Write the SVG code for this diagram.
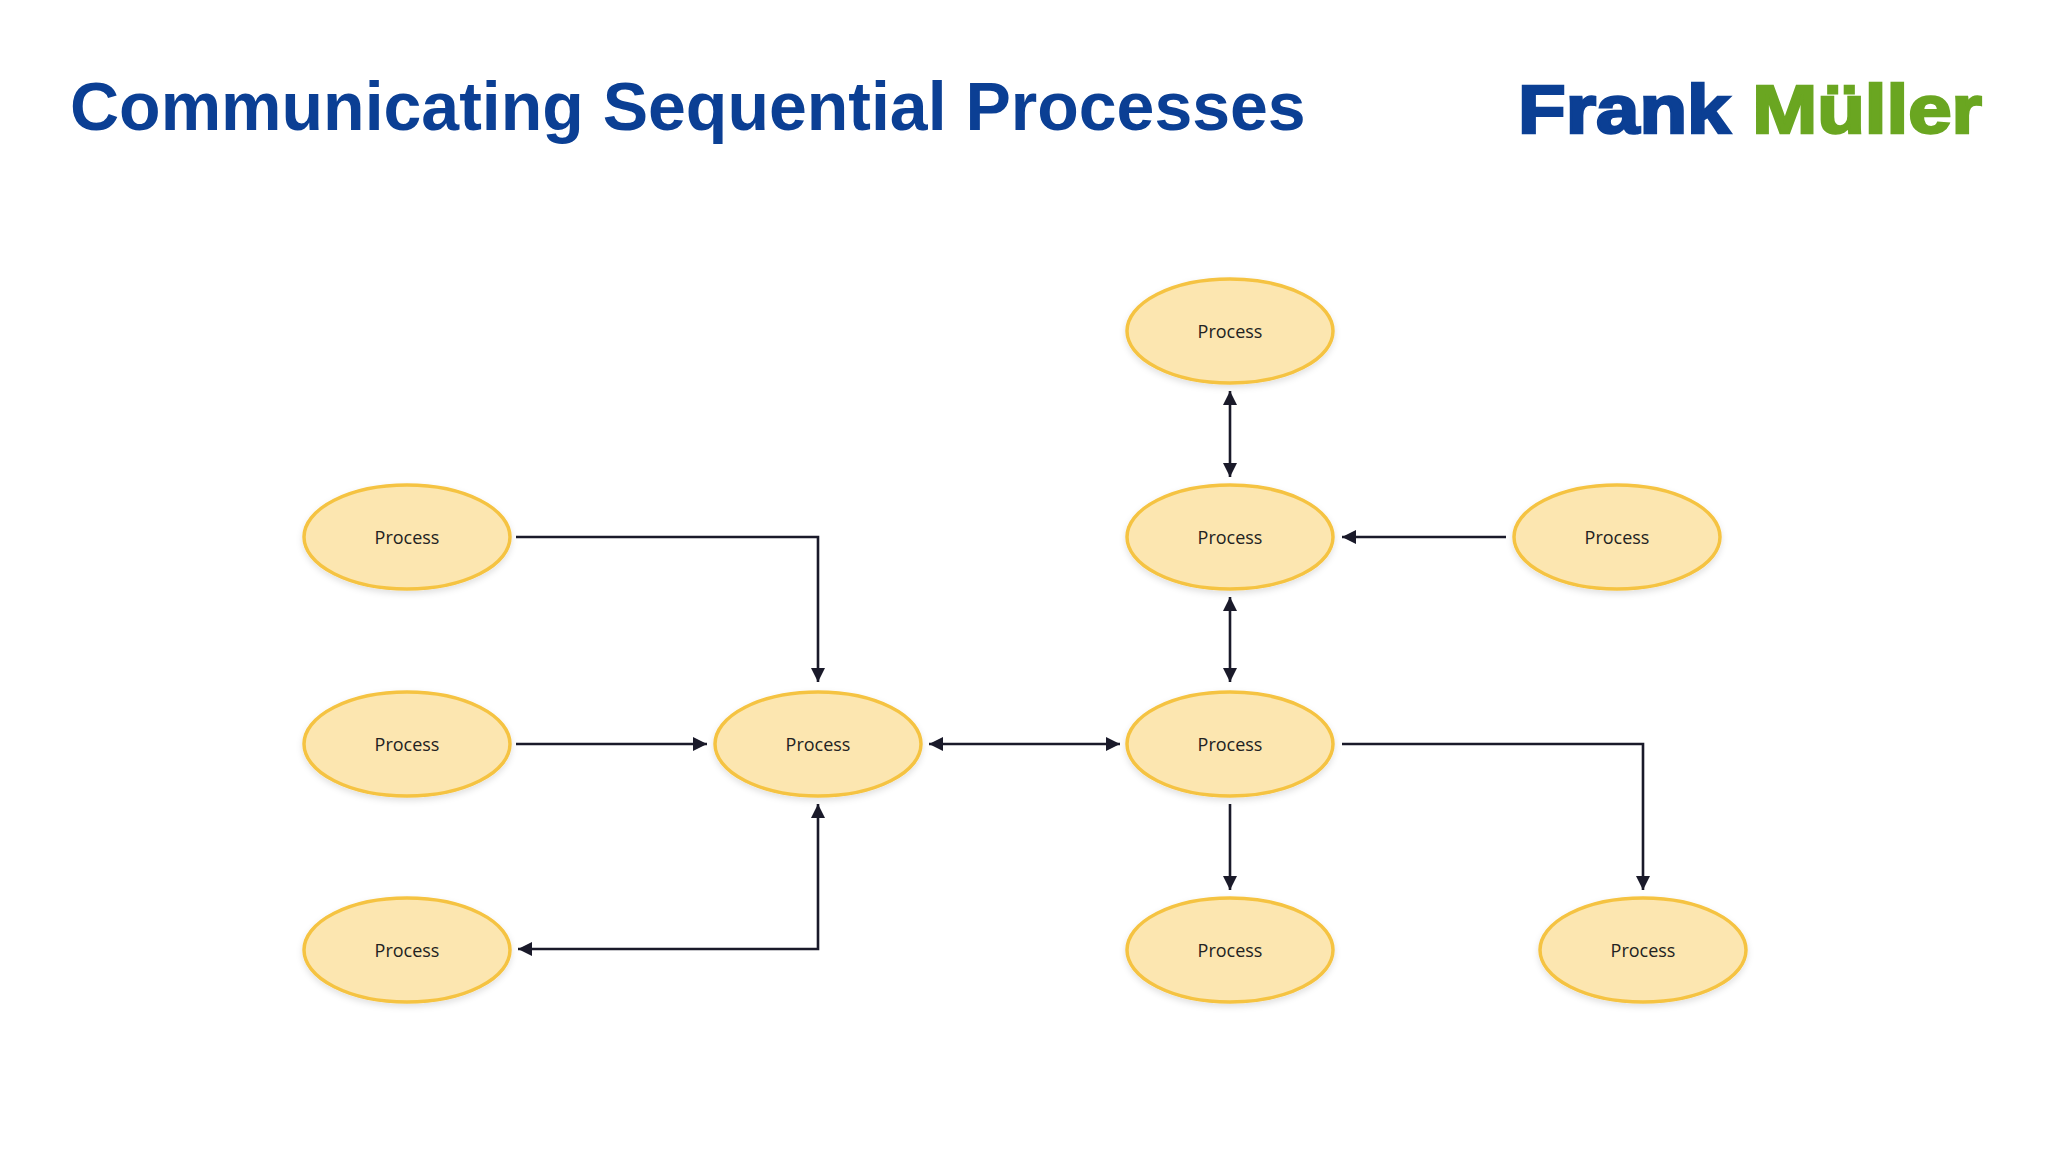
<svg xmlns="http://www.w3.org/2000/svg" width="2048" height="1152" viewBox="0 0 2048 1152">
<defs>
<marker id="a" viewBox="0 0 10 10" refX="10" refY="5" markerWidth="5.5" markerHeight="5.5" orient="auto-start-reverse" markerUnits="strokeWidth"><path d="M0,0L10,5L0,10z" fill="#1a1a2a"/></marker>
<filter id="sh" x="-20%" y="-20%" width="140%" height="150%"><feDropShadow dx="0" dy="3" stdDeviation="3" flood-color="#000" flood-opacity="0.12"/></filter>
</defs>
<style>
.n ellipse{fill:#fce6b0;stroke:#f5c342;stroke-width:3.5;filter:url(#sh)}
.n text{font-family:"Open Sans","Noto Sans",sans-serif;font-size:18px;fill:#222;text-anchor:middle;dominant-baseline:central}
.c path{fill:none;stroke:#1a1a2a;stroke-width:2.6}
.t{font-family:"Liberation Sans",Arial,sans-serif;font-weight:bold;font-size:68px}
</style>
<rect width="2048" height="1152" fill="#fff"/>
<text class="t" x="70" y="130" fill="#0b3f94">Communicating Sequential Processes</text>
<text class="t" x="1518" y="133" font-size="70" stroke-width="2.5" textLength="464" lengthAdjust="spacingAndGlyphs"><tspan fill="#0b3f94" stroke="#0b3f94">Frank </tspan><tspan fill="#6aa621" stroke="#6aa621">Müller</tspan></text>
<g class="c">
<path d="M516,537H818V682" marker-end="url(#a)"/>
<path d="M516,744H707" marker-end="url(#a)"/>
<path d="M929,744H1120" marker-start="url(#a)" marker-end="url(#a)"/>
<path d="M818,804V949H518" marker-start="url(#a)" marker-end="url(#a)"/>
<path d="M1230,391V477" marker-start="url(#a)" marker-end="url(#a)"/>
<path d="M1230,597V682" marker-start="url(#a)" marker-end="url(#a)"/>
<path d="M1506,537H1342" marker-end="url(#a)"/>
<path d="M1342,744H1643V890" marker-end="url(#a)"/>
<path d="M1230,804V890" marker-end="url(#a)"/>
</g>
<g id="n1" class="n"><ellipse cx="1230" cy="331" rx="103" ry="52"/><text x="1230" y="331">Process</text></g>
<g id="n2" class="n"><ellipse cx="407" cy="537" rx="103" ry="52"/><text x="407" y="537">Process</text></g>
<g id="n3" class="n"><ellipse cx="1230" cy="537" rx="103" ry="52"/><text x="1230" y="537">Process</text></g>
<g id="n4" class="n"><ellipse cx="1617" cy="537" rx="103" ry="52"/><text x="1617" y="537">Process</text></g>
<g id="n5" class="n"><ellipse cx="407" cy="744" rx="103" ry="52"/><text x="407" y="744">Process</text></g>
<g id="n6" class="n"><ellipse cx="818" cy="744" rx="103" ry="52"/><text x="818" y="744">Process</text></g>
<g id="n7" class="n"><ellipse cx="1230" cy="744" rx="103" ry="52"/><text x="1230" y="744">Process</text></g>
<g id="n8" class="n"><ellipse cx="407" cy="950" rx="103" ry="52"/><text x="407" y="950">Process</text></g>
<g id="n9" class="n"><ellipse cx="1230" cy="950" rx="103" ry="52"/><text x="1230" y="950">Process</text></g>
<g id="n10" class="n"><ellipse cx="1643" cy="950" rx="103" ry="52"/><text x="1643" y="950">Process</text></g>
</svg>
